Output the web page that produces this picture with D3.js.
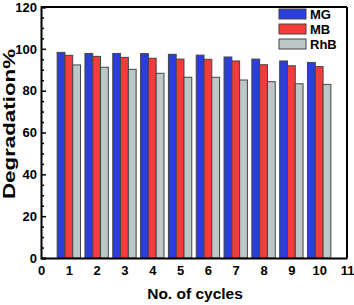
<!DOCTYPE html>
<html>
<head>
<meta charset="utf-8">
<script src="https://cdn.jsdelivr.net/npm/d3@7"></script>
<style>
  body { margin: 0; background: #fff; }
  text { font-family: Arial, "Liberation Sans", sans-serif; font-weight: bold; }
</style>
</head>
<body>
<div id="chart"></div>
<script>
// cycles on x axis
var cycles = [1, 2, 3, 4, 5, 6, 7, 8, 9, 10];
// degradation % per dye
var mgValues  = [98.3, 97.8, 97.8, 97.7, 97.4, 97.0, 96.1, 95.1, 94.2, 93.5];
var mbValues  = [96.9, 96.4, 95.9, 95.5, 95.1, 95.0, 94.2, 92.4, 91.9, 91.5];
var rhbValues = [92.3, 91.2, 90.2, 88.3, 86.4, 86.4, 85.1, 84.3, 83.3, 83.0];
var seriesNames = ["MG", "MB", "RhB"];
var seriesColors = ["#2b3ddb", "#f43c3c", "#bcc7c7"];
var xTicks = d3.range(0, 12);
var yTicks = [0, 20, 40, 60, 80, 100, 120];

var svgWidth = 354, svgHeight = 305;
var margin = {top: 7, right: 7, bottom: 47, left: 41};
var width = svgWidth - margin.left - margin.right;
var height = svgHeight - margin.top - margin.bottom;

var svg = d3.select("#chart").append("svg")
  .attr("width", svgWidth)
  .attr("height", svgHeight);

var chartGroup = svg.append("g")
  .attr("transform", `translate(${margin.left}, ${margin.top})`);

var x = d3.scaleLinear().domain([0, 11]).range([0, width]);
var y = d3.scaleLinear().domain([0, 120]).range([height, 0]);

var series = [mgValues, mbValues, rhbValues];
var barW = 0.28; // in x units

// bars
series.forEach(function(vals, si) {
  chartGroup.selectAll(".bar" + si)
    .data(vals)
    .enter()
    .append("rect")
    .attr("x", (d, i) => x(cycles[i] + (si - 1.5) * barW))
    .attr("y", d => y(d))
    .attr("width", x(barW) - x(0))
    .attr("height", d => y(0) - y(d))
    .attr("fill", seriesColors[si])
    .attr("stroke", "#444")
    .attr("stroke-width", 1);
});

// y axis with inward ticks
var leftAxis = d3.axisLeft(y).tickValues(yTicks).tickSize(-5).tickPadding(4);
var yAxis = chartGroup.append("g").call(leftAxis);
yAxis.selectAll("text").attr("font-size", "13px").attr("fill", "#000");
yAxis.select(".domain").attr("stroke-width", 2);
yAxis.selectAll(".tick line").attr("stroke-width", 1.5);
var minorAxis = d3.axisLeft(y).tickValues(d3.range(0, 121, 5).filter(v => v % 20 !== 0)).tickSize(-3).tickFormat("");
var yMinor = chartGroup.append("g").call(minorAxis);
yMinor.select(".domain").remove();
yMinor.selectAll(".tick line").attr("stroke-width", 1.5);

// x axis, no ticks
var bottomAxis = d3.axisBottom(x).tickValues(xTicks).tickSize(0).tickPadding(8);
var xAxis = chartGroup.append("g")
  .attr("transform", `translate(0, ${height})`)
  .call(bottomAxis);
xAxis.selectAll("text").attr("font-size", "13px").attr("fill", "#000");
xAxis.select(".domain").attr("stroke-width", 2);

// top and right frame
chartGroup.append("line").attr("x1", 0).attr("x2", width).attr("y1", 0).attr("y2", 0)
  .attr("stroke", "#000").attr("stroke-width", 2);
chartGroup.append("line").attr("x1", width).attr("x2", width).attr("y1", 0).attr("y2", height)
  .attr("stroke", "#000").attr("stroke-width", 2);

// legend
var legend = svg.append("g").attr("transform", "translate(279, 9)");
seriesNames.forEach(function(name, i) {
  legend.append("rect")
    .attr("x", 0).attr("y", i * 15)
    .attr("width", 27).attr("height", 10)
    .attr("fill", seriesColors[i])
    .attr("stroke", "#444").attr("stroke-width", 1);
  legend.append("text")
    .attr("x", 31).attr("y", i * 15 + 10)
    .attr("font-size", "13px")
    .text(name);
});

// axis labels
svg.append("text")
  .attr("transform", "rotate(-90)")
  .attr("x", -124)
  .attr("y", 15)
  .attr("text-anchor", "middle")
  .attr("font-size", "17px")
  .attr("textLength", 150)
  .attr("lengthAdjust", "spacingAndGlyphs")
  .text("Degradation%");

svg.append("text")
  .attr("x", 195)
  .attr("y", 299)
  .attr("text-anchor", "middle")
  .attr("font-size", "15.5px")
  .text("No. of cycles");
</script>
</body>
</html>
